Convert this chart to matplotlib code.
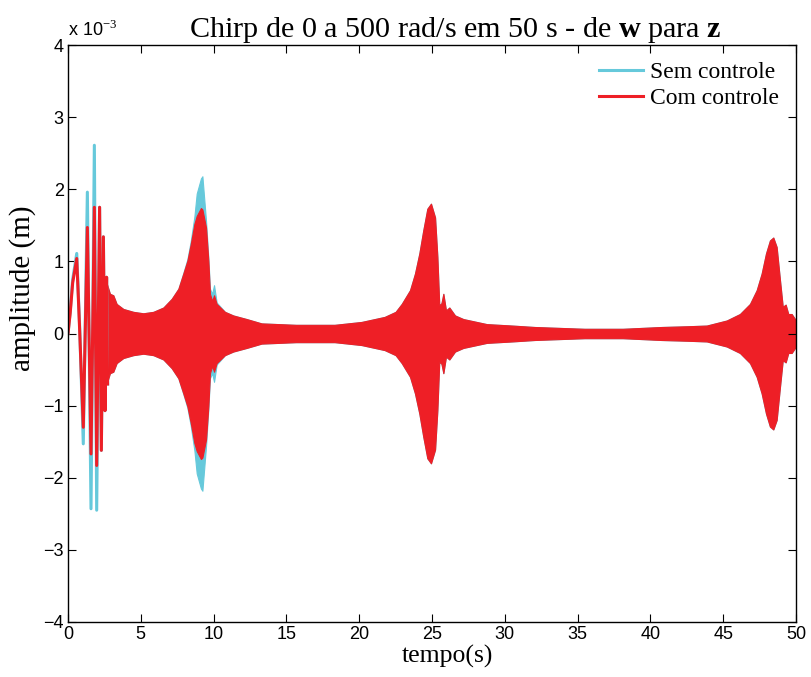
import matplotlib
matplotlib.use("Agg")
import matplotlib.pyplot as plt
import numpy as np

# ---- data (amplitude in units of 1e-3 m) ----
# early, distinctly visible oscillation (time s, value)
early_t   = [0.0, 0.15, 0.32, 0.60, 0.80, 1.05, 1.33, 1.58, 1.81, 1.97, 2.17, 2.29, 2.43, 2.54, 2.65, 2.72]
early_sem = [0.0, 0.30, 0.75, 1.11, 0.10, -1.53, 1.96, -2.43, 2.61, -2.45, 1.75, -1.62, 1.34, -1.07, 0.78, -0.70]
early_com = [0.0, 0.28, 0.70, 1.04, 0.05, -1.30, 1.47, -1.67, 1.75, -1.83, 1.75, -1.62, 1.34, -1.07, 0.78, -0.70]

# upper envelope of the dense oscillating part (lower envelope is its mirror)
env_t = [2.65, 2.88, 3.11, 3.34, 3.80, 4.49, 5.17, 5.86, 6.55, 7.12, 7.58, 7.92, 8.20, 8.43,
         8.68, 8.84, 9.13, 9.23, 9.48, 9.64, 9.75, 9.90, 10.03, 10.21, 10.78, 11.35, 12.27, 13.29,
         15.66, 18.31, 20.16, 21.75, 22.50, 22.92, 23.49, 23.83, 24.13, 24.40, 24.68, 24.93, 25.21,
         25.37, 25.50, 25.65, 25.78, 25.96, 26.19, 26.58, 27.15, 28.76, 30.5, 32.05, 35.48, 38.1,
         40.76, 42.5, 43.87, 45.24, 46.15, 46.84, 47.30, 47.64, 47.94, 48.21, 48.44, 48.67, 48.90,
         49.09, 49.29, 49.47, 49.70, 50.0]
env_sem = [0.70, 0.55, 0.53, 0.41, 0.34, 0.30, 0.28, 0.30, 0.36, 0.48, 0.62, 0.84, 1.03, 1.28,
           1.62, 1.94, 2.15, 2.18, 1.56, 1.05, 0.62, 0.55, 0.67, 0.43, 0.30, 0.25, 0.20, 0.14,
           0.12, 0.12, 0.16, 0.23, 0.30, 0.41, 0.60, 0.83, 1.11, 1.43, 1.73, 1.80, 1.61,
           1.06, 0.39, 0.42, 0.55, 0.32, 0.36, 0.25, 0.20, 0.13, 0.11, 0.09, 0.065, 0.065,
           0.09, 0.10, 0.11, 0.18, 0.27, 0.41, 0.60, 0.83, 1.11, 1.29, 1.33, 1.20, 0.74,
           0.37, 0.40, 0.27, 0.27, 0.18]
env_com = [0.70, 0.55, 0.53, 0.41, 0.34, 0.30, 0.28, 0.30, 0.36, 0.48, 0.62, 0.83, 1.01, 1.24,
           1.52, 1.63, 1.74, 1.72, 1.47, 1.01, 0.55, 0.45, 0.53, 0.41, 0.30, 0.25, 0.20, 0.14,
           0.12, 0.12, 0.16, 0.23, 0.30, 0.41, 0.60, 0.83, 1.11, 1.43, 1.73, 1.80, 1.61,
           1.06, 0.39, 0.42, 0.55, 0.32, 0.36, 0.25, 0.20, 0.13, 0.11, 0.09, 0.065, 0.065,
           0.09, 0.10, 0.11, 0.18, 0.27, 0.41, 0.60, 0.83, 1.11, 1.29, 1.33, 1.20, 0.74,
           0.37, 0.40, 0.27, 0.27, 0.18]

xticks = [0, 5, 10, 15, 20, 25, 30, 35, 40, 45, 50]
yticks = [-4, -3, -2, -1, 0, 1, 2, 3, 4]

cyan = '#66C9DB'
red = '#EE1F26'

plt.rcParams['mathtext.fontset'] = 'custom'
plt.rcParams['mathtext.rm'] = 'Liberation Serif'
plt.rcParams['mathtext.bf'] = 'Liberation Serif:bold'

fig = plt.figure(figsize=(8.11, 6.77), dpi=100)
ax = fig.add_axes([68/811, 1-622/677, (796-68)/811, (622-45)/677])

et = np.array(env_t)
es = np.array(env_sem)
ec = np.array(env_com)
# Sem controle
ax.fill_between(et, -es, es, facecolor=cyan, edgecolor=cyan, lw=0.8)
ax.plot(early_t, early_sem, color=cyan, lw=2.2, solid_joinstyle='round')
# Com controle
ax.fill_between(et, -ec, ec, facecolor=red, edgecolor=red, lw=0.8)
ax.plot(early_t, early_com, color=red, lw=2.2, solid_joinstyle='round')

ax.plot([], [], color=cyan, lw=2.2, label='Sem controle')
ax.plot([], [], color=red, lw=2.2, label='Com controle')

ax.set_xlim(0, 50)
ax.set_ylim(-4, 4)
ax.set_xticks(xticks)
ax.set_yticks(yticks)
ax.set_xticklabels([str(v) for v in xticks], family='Liberation Sans', fontsize=13)
ax.set_yticklabels([('\u2212' + str(-v)) if v < 0 else str(v) for v in yticks],
                   family='Liberation Sans', fontsize=13)
ax.tick_params(direction='in', top=True, right=True, length=6, width=0.8, pad=3)
for s in ax.spines.values():
    s.set_linewidth(1.0)

ax.set_title(r'Chirp de 0 a 500 rad/s em 50 s - de $\mathbf{w}$ para $\mathbf{z}$',
             family='Liberation Serif', fontsize=21.7, x=0.532, pad=6)
ax.set_xlabel('tempo(s)', family='Liberation Serif', fontsize=18.5)
ax.xaxis.set_label_coords(0.521, -0.040)
ax.set_ylabel('amplitude (m)', family='Liberation Serif', fontsize=21)
ax.yaxis.set_label_coords(-0.044, 0.579)
ax.text(0.0, 1.008, r'x 10$^{-3}$', transform=ax.transAxes, family='Liberation Sans',
        fontsize=13, ha='left', va='bottom')

leg = ax.legend(loc='upper right', frameon=False, prop={'family': 'Liberation Serif', 'size': 17},
                handlelength=1.9, borderaxespad=0.3, labelspacing=0.2, handletextpad=0.3)

fig.savefig('out.png', dpi=100)
